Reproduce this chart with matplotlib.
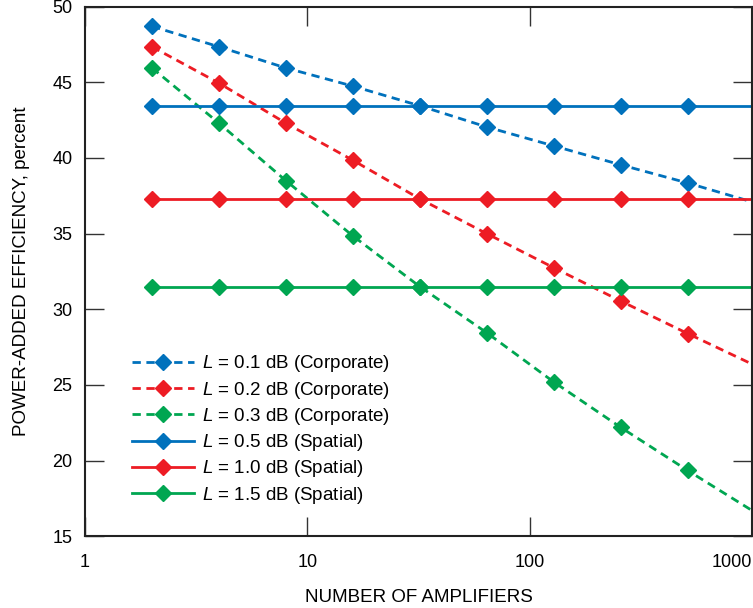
import matplotlib
matplotlib.use("Agg")
from matplotlib import pyplot as plt
import numpy as np

# number of amplifiers (last value only carries the line to the right edge)
n_amps = [2, 4, 8, 16, 32, 64, 128, 256, 512, 1024]

# corporate combiners, efficiency in percent
corp_01 = [48.7, 47.35, 45.95, 44.75, 43.45, 42.05, 40.8, 39.55, 38.35, 37.05]
corp_02 = [47.35, 44.95, 42.3, 39.85, 37.3, 35.0, 32.75, 30.55, 28.4, 26.3]
corp_03 = [45.95, 42.3, 38.5, 34.85, 31.5, 28.45, 25.2, 22.2, 19.35, 16.6]

# spatial combiners
spat_05 = [43.45] * 10
spat_10 = [37.3] * 10
spat_15 = [31.5] * 10

labels = ["$\\it{L}$ = 0.1 dB (Corporate)", "$\\it{L}$ = 0.2 dB (Corporate)",
          "$\\it{L}$ = 0.3 dB (Corporate)", "$\\it{L}$ = 0.5 dB (Spatial)",
          "$\\it{L}$ = 1.0 dB (Spatial)", "$\\it{L}$ = 1.5 dB (Spatial)"]

blue = "#0071bc"
red = "#ed1c24"
green = "#00a651"

plt.rcParams['font.family'] = ['Liberation Sans', 'DejaVu Sans']
plt.rcParams['mathtext.fontset'] = 'custom'
plt.rcParams['mathtext.it'] = 'Liberation Sans:italic'
plt.rcParams['mathtext.rm'] = 'Liberation Sans'

fig = plt.figure(figsize=(7.53, 6.08), dpi=100)
ax = fig.add_axes([0.113, 0.118, 0.886, 0.871])

series = [(corp_01, blue, (0, (3, 2))), (corp_02, red, (0, (3, 2))), (corp_03, green, (0, (3, 2))),
          (spat_05, blue, "-"), (spat_10, red, "-"), (spat_15, green, "-")]

for (vals, col, ls), lab in zip(series, labels):
    ax.plot(n_amps, vals, color=col, linestyle=ls, linewidth=2, marker="D",
            markersize=8.5, markevery=list(range(9)), label=lab)

ax.set_xscale("log")
ax.set_xlim(1, 1000)
ax.set_ylim(15, 50)
ax.set_xticks([1, 10, 100, 1000])
ax.set_xticklabels(["1", "10", "100", "1000"])
ax.xaxis.set_minor_locator(matplotlib.ticker.NullLocator())
ax.set_yticks(np.arange(15, 51, 5))
ax.get_xticklabels()[-1].set_horizontalalignment("right")

ax.tick_params(direction="in", length=13.5, width=1, top=True, right=True,
               labelsize=13, color="#333333")
ax.tick_params(axis="y", pad=9)
ax.tick_params(axis="x", pad=13)
for sp in ax.spines.values():
    sp.set_linewidth(1.5)
    sp.set_color("#222222")

ax.set_xlabel("NUMBER OF AMPLIFIERS", fontsize=13.5, labelpad=13)
ax.set_ylabel("POWER-ADDED EFFICIENCY, percent", fontsize=13.5, labelpad=16)

ax.legend(loc="lower left", bbox_to_anchor=(0.045, 0.026), frameon=False, fontsize=13.5,
          handlelength=3.3, numpoints=1, labelspacing=0.28, handletextpad=0.45)

fig.savefig("out.png", dpi=100)
